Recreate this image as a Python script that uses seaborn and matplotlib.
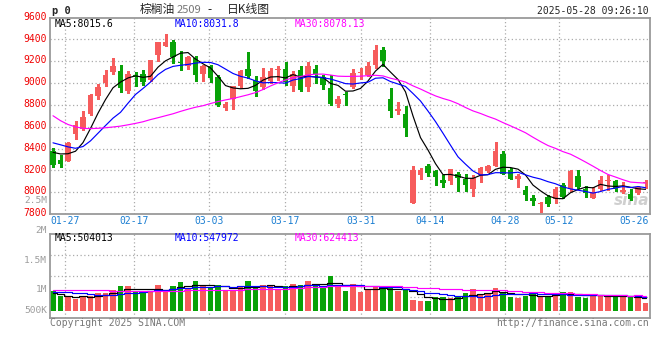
import numpy as np
import pandas as pd
import matplotlib
matplotlib.use("Agg")
import matplotlib.pyplot as plt
import matplotlib.transforms as mtransforms
import seaborn as sns

# ---------------- data ----------------
open_ = [8381, 8292, 8289, 8533, 8579, 8719, 8878, 9000, 9098, 9113,
         8924, 9076, 9085, 9030, 9256, 9342, 9372, 9195, 9153, 9229,
         9085, 9153, 9058, 8771, 8857, 8970, 9131, 9031, 8960, 9021,
         9122, 9131, 8976, 9122, 8960, 9131, 9055, 8950, 8811, 8899,
         8960, 9092, 9076, 9168, 9305, 8857, 8741, 8719, 7902, 8153,
         8244, 8192, 8115, 8103, 8168, 8122, 8026, 8156, 8190, 8243,
         8352, 8207, 8122, 8024, 7951, 7888, 7954, 7940, 8070, 8032,
         8152, 8032, 7948, 8029, 8106, 8106, 8000, 7983, 7994, 8080]
high = [8405, 8344, 8460, 8655, 8747, 8902, 8994, 9122, 9229, 9168,
        9107, 9101, 9122, 9213, 9375, 9451, 9397, 9290, 9244, 9250,
        9168, 9168, 9076, 8826, 8976, 9122, 9284, 9067, 9137, 9140,
        9153, 9189, 9107, 9160, 9189, 9168, 9070, 9076, 8880, 8920,
        9131, 9134, 9192, 9350, 9329, 8954, 8826, 8786, 8236, 8225,
        8259, 8202, 8155, 8215, 8185, 8167, 8153, 8230, 8253, 8457,
        8375, 8222, 8167, 8054, 7978, 7911, 7978, 8045, 8085, 8207,
        8207, 8061, 8048, 8152, 8155, 8110, 8097, 8033, 8054, 8115]
low = [8228, 8234, 8283, 8491, 8573, 8710, 8854, 8976, 9082, 8918,
       8905, 8976, 8985, 9020, 9200, 9336, 9183, 9116, 9131, 9015,
       9015, 9006, 8786, 8750, 8765, 8954, 9046, 8878, 8948, 9000,
       9031, 8979, 8930, 8930, 8924, 9000, 8948, 8796, 8777, 8800,
       8954, 9034, 9061, 9140, 9153, 8692, 8719, 8512, 7900, 8118,
       8146, 8062, 8046, 8079, 8012, 8009, 7969, 8091, 8183, 8237,
       8166, 8118, 8050, 7925, 7887, 7818, 7871, 7902, 7942, 8009,
       8039, 7954, 7948, 8024, 8024, 8009, 7993, 7932, 7984, 8039]
close = [8247, 8259, 8454, 8619, 8692, 8893, 8960, 9076, 9159, 8954,
         9082, 9058, 9006, 9207, 9372, 9372, 9235, 9180, 9235, 9076,
         9153, 9046, 8796, 8811, 8969, 9113, 9067, 8930, 9052, 9113,
         9130, 9005, 9085, 8939, 9159, 9085, 8985, 8812, 8850, 8892,
         9095, 9102, 9153, 9305, 9198, 8741, 8763, 8588, 8200, 8207,
         8173, 8137, 8085, 8210, 8134, 8070, 8134, 8225, 8237, 8381,
         8166, 8118, 8152, 7970, 7917, 7905, 7890, 8033, 7955, 8192,
         8051, 7996, 8005, 8115, 8116, 8029, 8024, 7940, 8048, 8088]
volume = [800000, 610000, 565000, 475000, 595000, 595000, 730000, 730000, 840000, 1000000,
          1000000, 800000, 800000, 800000, 1040000, 840000, 1000000, 1175000, 930000, 1200000,
          1000000, 900000, 1040000, 800000, 840000, 1000000, 1200000, 900000, 1040000, 1000000,
          840000, 1000000, 1080000, 1040000, 1200000, 1080000, 930000, 1400000, 970000, 800000,
          1080000, 770000, 860000, 945000, 900000, 930000, 800000, 840000, 435000, 395000,
          395000, 540000, 540000, 500000, 595000, 730000, 880000, 675000, 675000, 930000,
          700000, 565000, 525000, 595000, 700000, 610000, 595000, 675000, 770000, 770000,
          565000, 500000, 635000, 635000, 565000, 565000, 565000, 565000, 565000, 325000]

# moving-average values before enough history is on screen
ma5_head = [8365, 8350, 8352, 8375]
ma10_head = [8452, 8434, 8415, 8402, 8418, 8470, 8540, 8610, 8678]
ma30_head = [8700, 8655, 8620, 8598, 8585, 8582, 8585, 8590, 8597, 8605,
             8617, 8630, 8645, 8665, 8682, 8700, 8718, 8740, 8760, 8778,
             8792, 8812, 8830, 8845, 8858, 8875, 8892, 8912, 8940]
vma5_head = [730000, 675000, 610000, 565000]
vma10_head = [770000, 757000, 741000, 729000, 700000, 676000, 650000, 636000, 650000]
vma30_head = [855000, 855000, 850000, 850000, 845000, 840000, 830000, 820000, 810000, 805000,
              805000, 805000, 805000, 805000, 810000, 810000, 815000, 815000, 820000, 825000,
              830000, 835000, 840000, 845000, 850000, 855000, 860000, 865000, 870000]

date_labels = ["01-27", "02-17", "03-03", "03-17", "03-31", "04-14", "04-28", "05-12", "05-26"]
date_index = [2, 11, 21, 31, 41, 50, 60, 67, 77]
price_ticks = [7800, 8000, 8200, 8400, 8600, 8800, 9000, 9200, 9400, 9600]
price_grid = [8000, 8200, 8400, 8600, 8800, 9000, 9200, 9400]
vol_axis_labels = ["2.5M", "2M", "1.5M", "1M", "500K"]
ma_texts = ["MA5:8015.6", "MA10:8031.8", "MA30:8078.13"]
vma_texts = ["MA5:504013", "MA10:547972", "MA30:624413"]
title_name = "棕榈油"
title_code = "2509"
title_rest = "日K线图"
timestamp = "2025-05-28 09:26:10"

# ---------------- style ----------------
sns.set_style("white")
plt.rcParams['font.family'] = ['DejaVu Sans Mono', 'Noto Sans CJK SC']
plt.rcParams['axes.unicode_minus'] = False

RED = '#F65C5C'
GREEN = '#08A208'
GRID = '#ABABAB'
BORDER = '#9A9A9A'
DATEBLUE = '#1C7FD2'
PRICERED = '#F00000'
GRAY = '#9C9C9C'

W, H = 660, 360
fig = plt.figure(figsize=(W / 100, H / 100), dpi=100, facecolor='white')


def fx(x):
    return x / W


def fy(y):
    return 1 - y / H


def moving(values, n, head):
    s = pd.Series(values, dtype=float).rolling(n).mean()
    s.iloc[:n - 1] = head
    return s.to_numpy()


n = len(close)
idx = np.arange(n)
o = np.array(open_, float)
c = np.array(close, float)
hi = np.array(high, float)
lo = np.array(low, float)
vol = np.array(volume, float)
up = c >= o
colors = np.where(up, RED, GREEN)

df = pd.DataFrame({
    'idx': idx,
    'ma5': moving(close, 5, ma5_head),
    'ma10': moving(close, 10, ma10_head),
    'ma30': moving(close, 30, ma30_head),
    'vma5': moving(volume, 5, vma5_head),
    'vma10': moving(volume, 10, vma10_head),
    'vma30': moving(volume, 30, vma30_head),
})

left, right = 50.0, 649.7
main_top, main_bot = 17.5, 214.0
vol_top, vol_bot = 234.3, 317.7
step = 7.5          # px per candle
first_center = 53.0
xlim = ((left - first_center) / step, (right - first_center) / step)
grid_x = [i * 1.012 - 0.39 for i in date_index]

ax = fig.add_axes([fx(left), fy(main_bot), (right - left) / W, (main_bot - main_top) / H])
axv = fig.add_axes([fx(left), fy(vol_bot), (right - left) / W, (vol_bot - vol_top) / H])

# ---------------- price panel ----------------
ax.set_xlim(*xlim)
ax.set_ylim(price_ticks[0], price_ticks[-1])
for g in grid_x[:-1]:
    ax.axvline(g, color=GRID, lw=0.9, ls=(0, (1, 2)), zorder=0)
for p in price_grid:
    ax.axhline(p, color=GRID, lw=0.9, ls=(0, (1, 2)), zorder=0)

min_body = 9.0
body_h = np.maximum(np.abs(c - o), min_body)
body_b = np.minimum(o, c)
ax.vlines(idx, lo, hi, colors=colors, lw=0.8, zorder=2, antialiased=False)
ax.bar(idx, body_h, bottom=body_b, width=0.76, color=colors, lw=0, zorder=3, antialiased=False)

sns.lineplot(data=df, x='idx', y='ma5', ax=ax, color='black', lw=0.85, zorder=4)
sns.lineplot(data=df, x='idx', y='ma10', ax=ax, color='#0000FF', lw=0.85, zorder=4)
sns.lineplot(data=df, x='idx', y='ma30', ax=ax, color='#FF00FF', lw=0.85, zorder=4)

ax.set_yticks(price_ticks)
ax.set_yticklabels([str(t) for t in price_ticks])
ax.set_xticks(grid_x)
ax.set_xticklabels(date_labels)
ax.tick_params(axis='y', length=0, pad=2.2, labelsize=7, labelcolor=PRICERED)
ax.tick_params(axis='x', length=0, pad=1.2, labelsize=7, labelcolor=DATEBLUE)
lift = mtransforms.ScaledTranslation(0, 1.8 / 100, fig.dpi_scale_trans)
for lab in ax.get_yticklabels():
    lab.set_transform(lab.get_transform() + lift)
ax.set_xlabel('')
ax.set_ylabel('')
for s in ax.spines.values():
    s.set_color(BORDER)
    s.set_linewidth(1.3)

ax.text(1.0, 0.07, 'sina', transform=ax.transAxes, ha='right', va='center',
        fontsize=11, fontstyle='italic', fontweight='bold', color='#CFCFCF',
        family='DejaVu Sans', zorder=1)

# ---------------- volume panel ----------------
px_vol = 40500.0
base_y = 310.7
axv.set_xlim(*xlim)
axv.set_ylim(-(vol_bot - base_y) * px_vol, (base_y - vol_top) * px_vol)
y0, y1 = axv.get_ylim()
for f in (0.25, 0.5, 0.75):
    axv.axhline(y0 + f * (y1 - y0), color=GRID, lw=0.9, ls=(0, (1, 2)), zorder=0)
for g in grid_x[:-1]:
    axv.axvline(g, color=GRID, lw=0.9, ls=(0, (1, 2)), zorder=0)
axv.bar(idx, vol, width=0.76, color=colors, lw=0, zorder=2, antialiased=False)
sns.lineplot(data=df, x='idx', y='vma5', ax=axv, color='black', lw=0.85, zorder=3, drawstyle='steps-mid')
sns.lineplot(data=df, x='idx', y='vma10', ax=axv, color='#0000FF', lw=0.85, zorder=3, drawstyle='steps-mid')
sns.lineplot(data=df, x='idx', y='vma30', ax=axv, color='#FF00FF', lw=0.85, zorder=3, drawstyle='steps-mid')
axv.set_xticks([])
axv.set_yticks([])
axv.set_xlabel('')
axv.set_ylabel('')
for s in axv.spines.values():
    s.set_color(BORDER)
    s.set_linewidth(1.3)

# ---------------- texts ----------------
mono = dict(family='DejaVu Sans Mono', fontsize=7)
fig.text(fx(51.5), fy(11), 'p 0', fontsize=7.5, fontweight='bold', family='DejaVu Sans Mono',
         ha='left', va='center')
cjk = ['Noto Sans CJK SC', 'DejaVu Sans']
fig.text(fx(140), fy(9.5), title_name, family=cjk, fontsize=8.5, ha='left', va='center')
fig.text(fx(177), fy(10), title_code, family=cjk, fontsize=8, color='#777777', ha='left', va='center')
fig.text(fx(207), fy(10), '-', family=cjk, fontsize=8.5, ha='left', va='center')
fig.text(fx(227), fy(9.5), title_rest, family=cjk, fontsize=8.5, ha='left', va='center')
fig.text(fx(649), fy(11.5), timestamp, ha='right', va='center', **mono)

ma_x = [55, 175, 295]
ma_col = ['black', '#0000FF', '#FF00FF']
for t, x, col in zip(ma_texts, ma_x, ma_col):
    fig.text(fx(x), fy(24), t, color=col, ha='left', va='center', **mono)
for t, x, col in zip(vma_texts, ma_x, ma_col):
    fig.text(fx(x), fy(238), t, color=col, ha='left', va='center', **mono)

vol_label_y = [200.5, 230.5, 260.5, 290, 310.5]
for t, y in zip(vol_axis_labels, vol_label_y):
    fig.text(fx(47), fy(y), t, color=GRAY, ha='right', va='center', fontsize=6.8,
             family='DejaVu Sans Mono')

fig.text(fx(50), fy(323.5), 'Copyright 2025 SINA.COM', color='#777777', ha='left', va='center', **mono)
fig.text(fx(649), fy(323.5), 'http://finance.sina.com.cn', color='#777777', ha='right', va='center', **mono)

fig.savefig('out.png', dpi=100, facecolor='white')
